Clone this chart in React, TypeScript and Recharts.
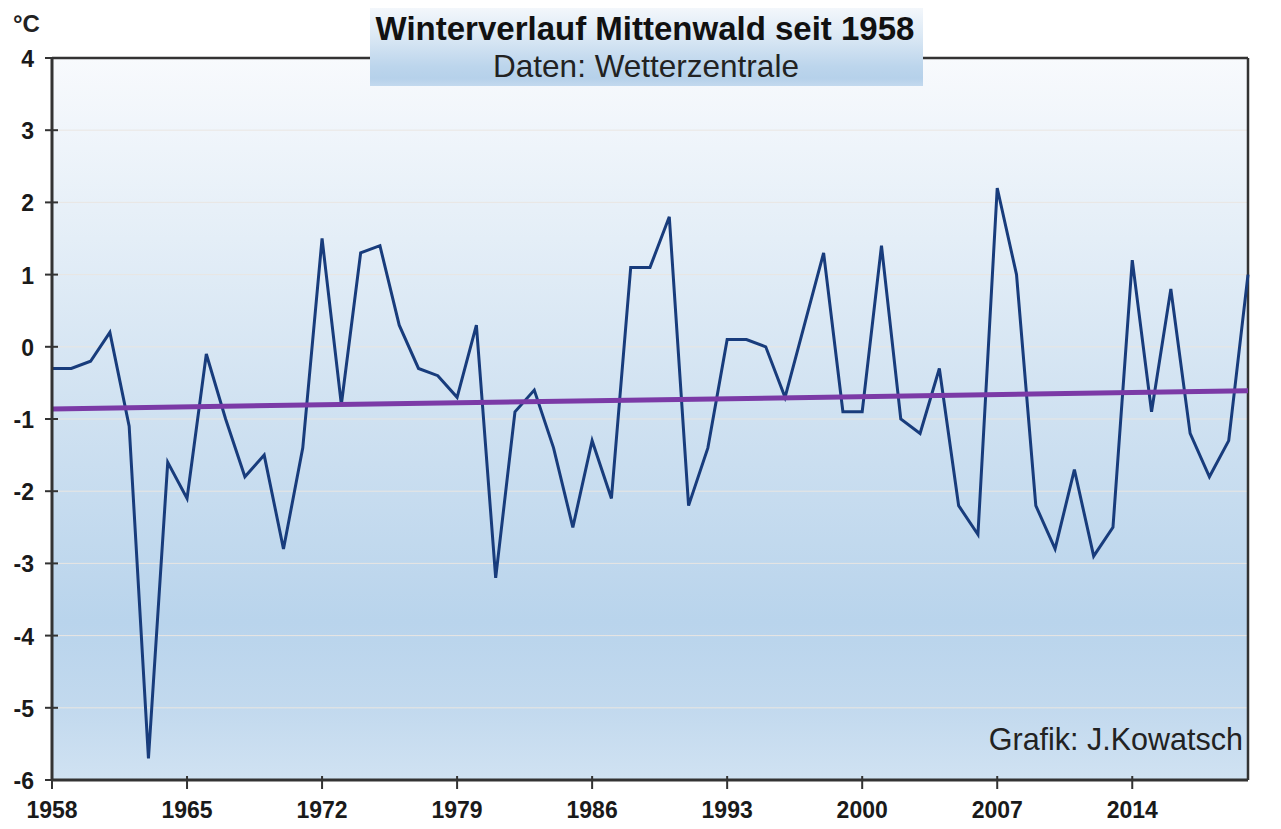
import React from "react";
import { LineChart, Line, XAxis, YAxis, CartesianGrid, ReferenceLine } from "recharts";

// winter mean temperatures, Mittenwald, 1958..2020 (°C)
const firstYear = 1958;
const temps = [
  -0.3, -0.3, -0.2, 0.2, -1.1, -5.7, -1.6, -2.1, -0.1, -1.0,
  -1.8, -1.5, -2.8, -1.4, 1.5, -0.8, 1.3, 1.4, 0.3, -0.3,
  -0.4, -0.7, 0.3, -3.2, -0.9, -0.6, -1.4, -2.5, -1.3, -2.1,
  1.1, 1.1, 1.8, -2.2, -1.4, 0.1, 0.1, 0.0, -0.7, 0.3,
  1.3, -0.9, -0.9, 1.4, -1.0, -1.2, -0.3, -2.2, -2.6, 2.2,
  1.0, -2.2, -2.8, -1.7, -2.9, -2.5, 1.2, -0.9, 0.8, -1.2,
  -1.8, -1.3, 1.0,
];
const years = temps.map((_, i) => firstYear + i);

// linear trend at both ends
const trendStart = -0.86;
const trendEnd = -0.61;

const xTicks = [1958, 1965, 1972, 1979, 1986, 1993, 2000, 2007, 2014];
const yTicks = [-6, -5, -4, -3, -2, -1, 0, 1, 2, 3, 4];

const data = years.map((year, i) => ({
  year,
  temp: temps[i],
  trend: i === 0 ? trendStart : i === years.length - 1 ? trendEnd : undefined,
}));

const font = "'Liberation Sans', Arial, sans-serif";
const axisColor = "#333";

const XTick = (props: any) => {
  const { x, y, payload } = props;
  return (
    <g>
      <line x1={x} x2={x} y1={y - 4} y2={y + 9} stroke={axisColor} strokeWidth={2} />
      <text
        x={x}
        y={y + 30}
        textAnchor="middle"
        dominantBaseline="central"
        fontFamily={font}
        fontWeight="bold"
        fontSize={23}
        fill="#1a1a1a"
      >
        {payload.value}
      </text>
    </g>
  );
};

const YTick = (props: any) => {
  const { x, y, payload } = props;
  return (
    <g>
      <line x1={x - 7} x2={x + 6} y1={y} y2={y} stroke={axisColor} strokeWidth={2} />
      <text
        x={x - 18}
        y={y + 1}
        textAnchor="end"
        dominantBaseline="central"
        fontFamily={font}
        fontWeight="bold"
        fontSize={23}
        fill="#1a1a1a"
      >
        {payload.value}
      </text>
    </g>
  );
};

export default function App() {
  return (
    <div style={{ position: "relative", width: 1281, height: 829, margin: "-8px 0 0 -8px", background: "#fff" }}>
      {/* picture frame */}
      <div
        style={{
          position: "absolute",
          left: 7,
          top: 7,
          width: 1274,
          height: 822,
          borderLeft: "1px solid #dcdcdc",
          borderTop: "1px solid #dcdcdc",
        }}
      />
      {/* plot background */}
      <div
        style={{
          position: "absolute",
          left: 52,
          top: 58,
          width: 1196,
          height: 722,
          background:
            "linear-gradient(to bottom, #f8fafd 0%, #e4eef7 25%, #cfe1f1 50%, #b9d4ec 78%, #c2d9ee 90%, #d0e2f2 100%)",
        }}
      />
      <div style={{ position: "absolute", left: 0, top: 0 }}>
        <LineChart width={1281} height={829} data={data} margin={{ top: 58, right: 33, bottom: 0, left: 0 }}>
          <CartesianGrid vertical={false} stroke="#e9e6e2" strokeWidth={1} />
          <XAxis
            dataKey="year"
            type="number"
            domain={[1958, 2020]}
            ticks={xTicks}
            interval={0}
            height={49}
            tickSize={0}
            tickMargin={0}
            tick={<XTick />}
            axisLine={{ stroke: axisColor, strokeWidth: 3 }}
            tickLine={false}
          />
          <YAxis
            type="number"
            domain={[-6, 4]}
            ticks={yTicks}
            interval={0}
            width={52}
            tickSize={0}
            tickMargin={0}
            tick={<YTick />}
            axisLine={{ stroke: axisColor, strokeWidth: 3 }}
            tickLine={false}
          />
          {/* top and right frame of the plot */}
          <ReferenceLine y={4} stroke={axisColor} strokeWidth={2.5} />
          <ReferenceLine x={2020} stroke={axisColor} strokeWidth={2.5} />
          <Line
            type="linear"
            dataKey="temp"
            stroke="#183c7c"
            strokeWidth={3}
            dot={false}
            activeDot={false}
            isAnimationActive={false}
          />
          <Line
            type="linear"
            dataKey="trend"
            stroke="#7b3aa6"
            strokeWidth={5}
            dot={false}
            activeDot={false}
            connectNulls
            isAnimationActive={false}
          />
        </LineChart>
      </div>
      {/* title box */}
      <div
        style={{
          position: "absolute",
          left: 370,
          top: 8,
          width: 553,
          height: 78,
          background: "linear-gradient(to bottom, #f3f7fb 0%, #dce9f5 35%, #bcd5ec 75%, #b6d1ea 90%, #c3d9ee 100%)",
        }}
      />
      <svg width={1281} height={829} style={{ position: "absolute", left: 0, top: 0, pointerEvents: "none" }}>
        <text x={645} y={40} textAnchor="middle" fontFamily={font} fontWeight="bold" fontSize={33} fill="#111">
          Winterverlauf Mittenwald seit 1958
        </text>
        <text x={646} y={77} textAnchor="middle" fontFamily={font} fontSize={31.5} fill="#222">
          Daten: Wetterzentrale
        </text>
        <text x={13} y={32} fontFamily={font} fontWeight="bold" fontSize={24} fill="#222">
          °C
        </text>
        <text x={1243} y={750} textAnchor="end" fontFamily={font} fontSize={30.5} fill="#222">
          Grafik: J.Kowatsch
        </text>
      </svg>
    </div>
  );
}
